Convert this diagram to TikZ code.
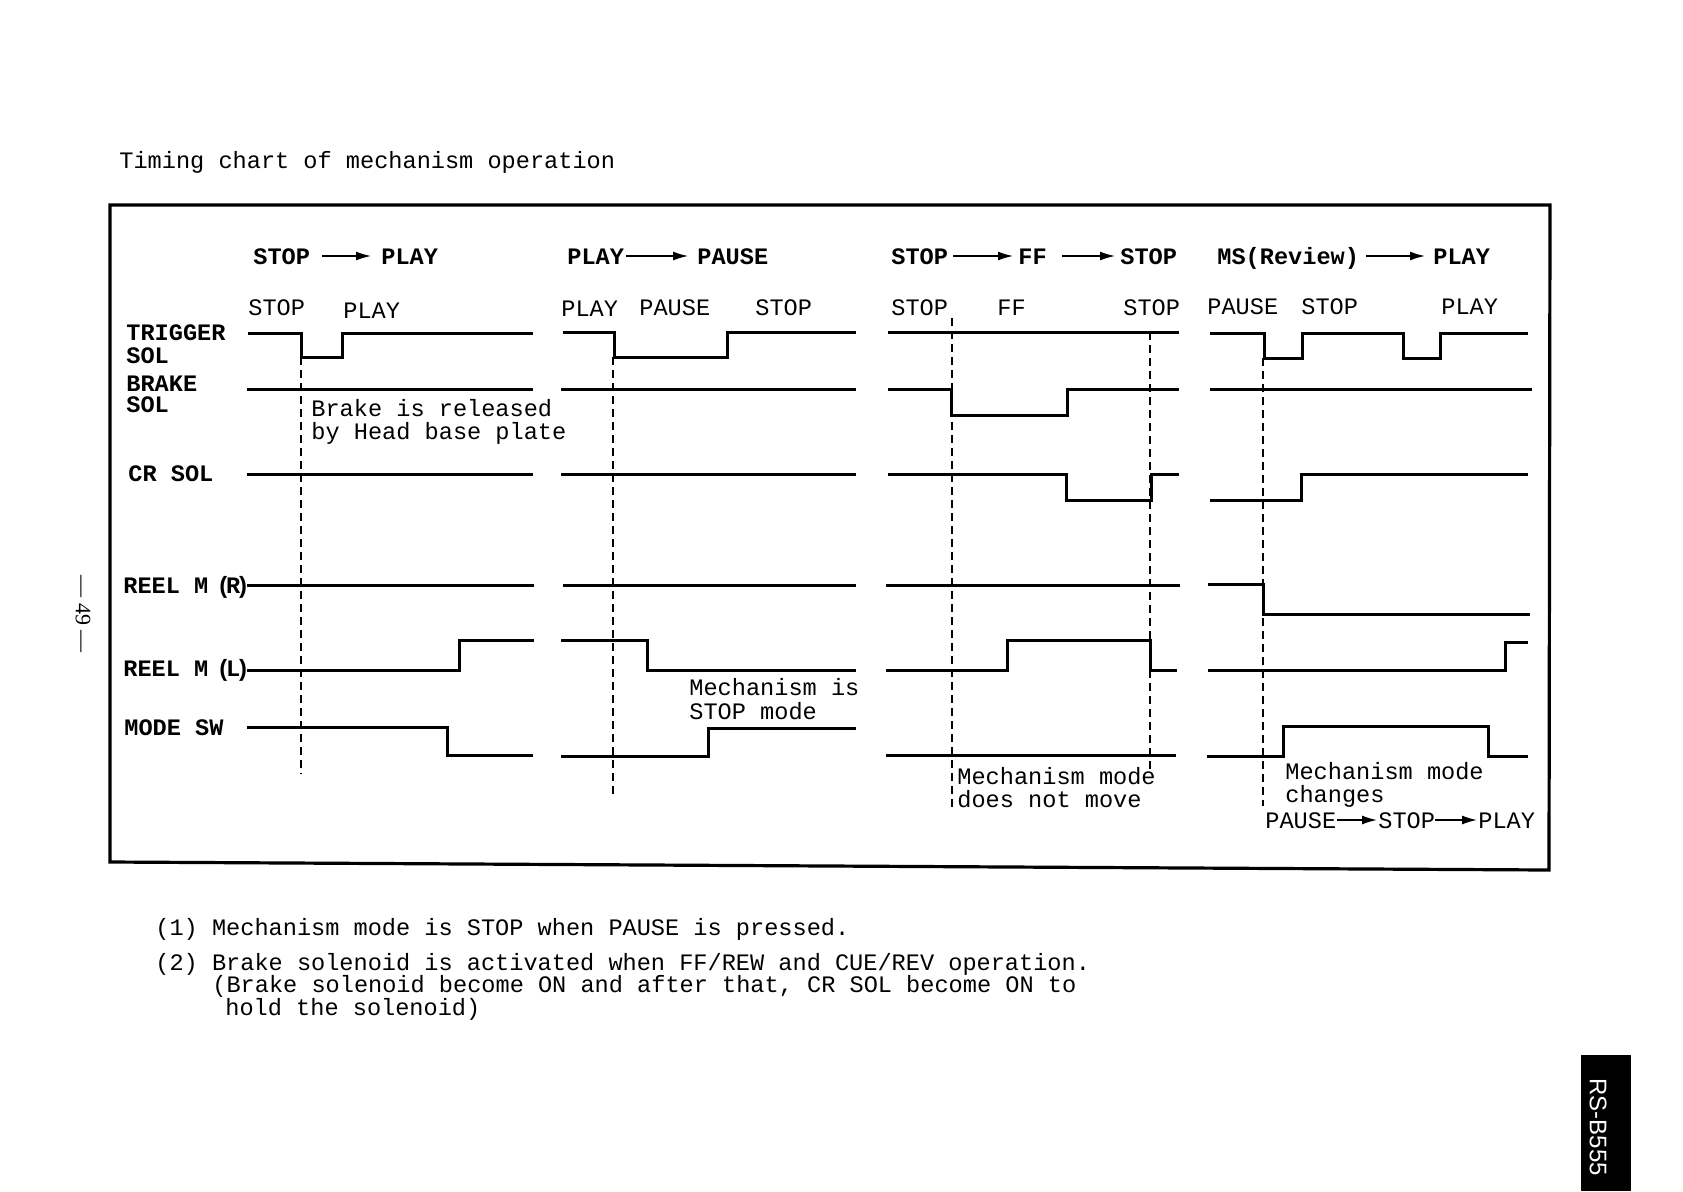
\documentclass[tikz,border=0pt]{standalone}
\usepackage{fontspec}
\setmainfont{Liberation Mono}
\newfontfamily\pagefont{Liberation Serif}
\newfontfamily\tabfont{Liberation Sans}
\usetikzlibrary{arrows.meta}

\begin{document}
\begin{tikzpicture}[x=0.5pt, y=-0.5pt,
    every node/.style={inner sep=0pt, anchor=base west, font=\fontsize{11.8}{14}\selectfont},
    word/.style={text height=8pt, text depth=0pt},
    hdr/.style={word, font=\fontsize{11.8}{14}\selectfont\bfseries},
    lbl/.style={font=\fontsize{11.8}{14}\selectfont\bfseries},
    sigline/.style={line width=1.5pt},
    guide/.style={line width=0.6pt, dash pattern=on 4pt off 2.5pt},
    harr/.style={-{Latex[length=7.5pt,width=4.5pt]}, line width=0.7pt}]
        \useasboundingbox (0,0) rectangle (1683,1191);

        % Title and frame
        \node (title) at (119,168) {Timing chart of mechanism operation};
        \draw[line width=1.6pt] (110,205) -- (1550,205) -- (1549,870) -- (110,862) -- cycle;

        % Signal names
        \node[lbl] (ltrig) at (126,340) {TRIGGER};
        \node[lbl] (ltrigsol) at (126,363) {SOL};
        \node[lbl] (lbrake) at (126,391) {BRAKE};
        \node[lbl] (lbrakesol) at (126,412) {SOL};
        \node[lbl] (lcr) at (128,481) {CR SOL};
        \node[lbl] (lreelr) at (123,593) {REEL M\hspace{0.35em}(\kern-.2em R\kern-.2em)};
        \node[lbl] (lreell) at (123,676) {REEL M\hspace{0.35em}(\kern-.2em L\kern-.2em)};
        \node[lbl] (lmode) at (124,735) {MODE SW};

        % STOP -> PLAY
        \node[hdr] (h1stop) at (253,264) {STOP};
        \node[hdr] (h1play) at (381,264) {PLAY};
        \draw[harr, shorten <=6pt, shorten >=5pt] (h1stop.east) -- (h1play.west);
        \node (s1stop) at (248,315) {STOP};
        \node (s1play) at (343,318) {PLAY};
        \draw[sigline] (248,333) -- (301,333) -- (301,357) -- (342,357) -- (342,333) -- (533,333);
        \draw[sigline] (247,389) -- (533,389);
        \draw[sigline] (247,474) -- (533,474);
        \draw[sigline] (247,585) -- (534,585);
        \draw[sigline] (247,670) -- (459,670) -- (459,640) -- (534,640);
        \draw[sigline] (247,727) -- (447,727) -- (447,755) -- (533,755);
        \draw[guide] (301,357) -- (301,774);
        \node (brk1) at (311,416) {Brake is released};
        \node (brk2) at (311,439) {by Head base plate};

        % PLAY -> PAUSE
        \node[hdr] (h2play) at (567,264) {PLAY};
        \node[hdr] (h2pause) at (697,264) {PAUSE};
        \draw[harr, shorten <=1pt, shorten >=4.5pt] (h2play.east) -- (h2pause.west);
        \node (s2play) at (561,316) {PLAY};
        \node (s2pause) at (639,315) {PAUSE};
        \node (s2stop) at (755,315) {STOP};
        \draw[sigline] (563,332) -- (614,332) -- (614,357) -- (727,357) -- (727,332) -- (856,332);
        \draw[sigline] (561,389) -- (856,389);
        \draw[sigline] (561,474) -- (856,474);
        \draw[sigline] (563,585) -- (856,585);
        \draw[sigline] (561,640) -- (647,640) -- (647,670) -- (856,670);
        \draw[sigline] (561,756) -- (708,756) -- (708,728) -- (856,728);
        \draw[guide] (613,357) -- (613,796);
        \node (mech2a) at (689,695) {Mechanism is};
        \node (mech2b) at (689,719) {STOP mode};

        % STOP -> FF -> STOP
        \node[hdr] (h3stop) at (891,264) {STOP};
        \node[hdr] (h3ff) at (1018,264) {FF};
        \node[hdr] (h3stopb) at (1120,264) {STOP};
        \draw[harr, shorten <=2.5pt, shorten >=2.5pt] (h3stop.east) -- (h3ff.west);
        \draw[harr, shorten <=7.5pt, shorten >=2.5pt] (h3ff.east) -- (h3stopb.west);
        \node (s3stop) at (891,315) {STOP};
        \node (s3ff) at (997,315) {FF};
        \node (s3stopb) at (1123,315) {STOP};
        \draw[sigline] (888,332) -- (1179,332);
        \draw[sigline] (888,389) -- (951,389) -- (951,415) -- (1067,415) -- (1067,389) -- (1179,389);
        \draw[sigline] (888,474) -- (1066,474) -- (1066,500) -- (1151,500) -- (1151,474) -- (1179,474);
        \draw[sigline] (886,585) -- (1180,585);
        \draw[sigline] (886,670) -- (1007,670) -- (1007,640) -- (1150,640) -- (1150,670) -- (1177,670);
        \draw[sigline] (886,755) -- (1176,755);
        \draw[guide] (952,318) -- (952,809);
        \draw[guide] (1150,332) -- (1150,769);
        \node (mech3a) at (957,784) {Mechanism mode};
        \node (mech3b) at (957,807) {does not move};

        % MS(Review) -> PLAY
        \node[hdr] (h4ms) at (1217,264) {MS(Review)};
        \node[hdr] (h4play) at (1433,264) {PLAY};
        \draw[harr, shorten <=3.5pt, shorten >=4pt] (h4ms.east) -- (h4play.west);
        \node (s4pause) at (1207,314) {PAUSE};
        \node (s4stop) at (1301,314) {STOP};
        \node (s4play) at (1441,314) {PLAY};
        \draw[sigline] (1210,333) -- (1264,333) -- (1264,358) -- (1302,358) -- (1302,333) -- (1403,333) -- (1403,358) -- (1440,358) -- (1440,333) -- (1528,333);
        \draw[sigline] (1210,389) -- (1532,389);
        \draw[sigline] (1210,500) -- (1301,500) -- (1301,474) -- (1528,474);
        \draw[sigline] (1208,584) -- (1263,584) -- (1263,614) -- (1530,614);
        \draw[sigline] (1208,670) -- (1505,670) -- (1505,642) -- (1528,642);
        \draw[sigline] (1207,756) -- (1283,756) -- (1283,726) -- (1488,726) -- (1488,756) -- (1528,756);
        \draw[guide] (1263,358) -- (1263,806);
        \node (mech4a) at (1285,779) {Mechanism mode};
        \node (mech4b) at (1285,802) {changes};
        \node[word] (n4pause) at (1265,828) {PAUSE};
        \node[word] (n4stop) at (1378,828) {STOP};
        \node[word] (n4play) at (1478,828) {PLAY};
        \draw[harr, shorten >=0.5pt] (n4pause.east) -- (n4stop.west);
        \draw[harr, shorten >=0.5pt] (n4stop.east) -- (n4play.west);

        % Notes
        \node (note1) at (155,935) {(1) Mechanism mode is STOP when PAUSE is pressed.};
        \node (note2) at (155,970) {(2) Brake solenoid is activated when FF/REW and CUE/REV operation.};
        \node (note2b) at (212,992) {(Brake solenoid become ON and after that, CR SOL become ON to};
        \node (note2c) at (225,1015) {hold the solenoid)};

        % Page number and tab
        \node[anchor=center, rotate=-90, font=\pagefont\fontsize{11}{11}\selectfont] (pgno) at (83,614) {— 49 —};
        \fill (1581,1055) rectangle (1631,1191);
        \node[anchor=center, rotate=-90, text=white, font=\tabfont\fontsize{12}{12}\selectfont] (tab) at (1598,1127) {RS-B555};
    \end{tikzpicture}
\end{document}
